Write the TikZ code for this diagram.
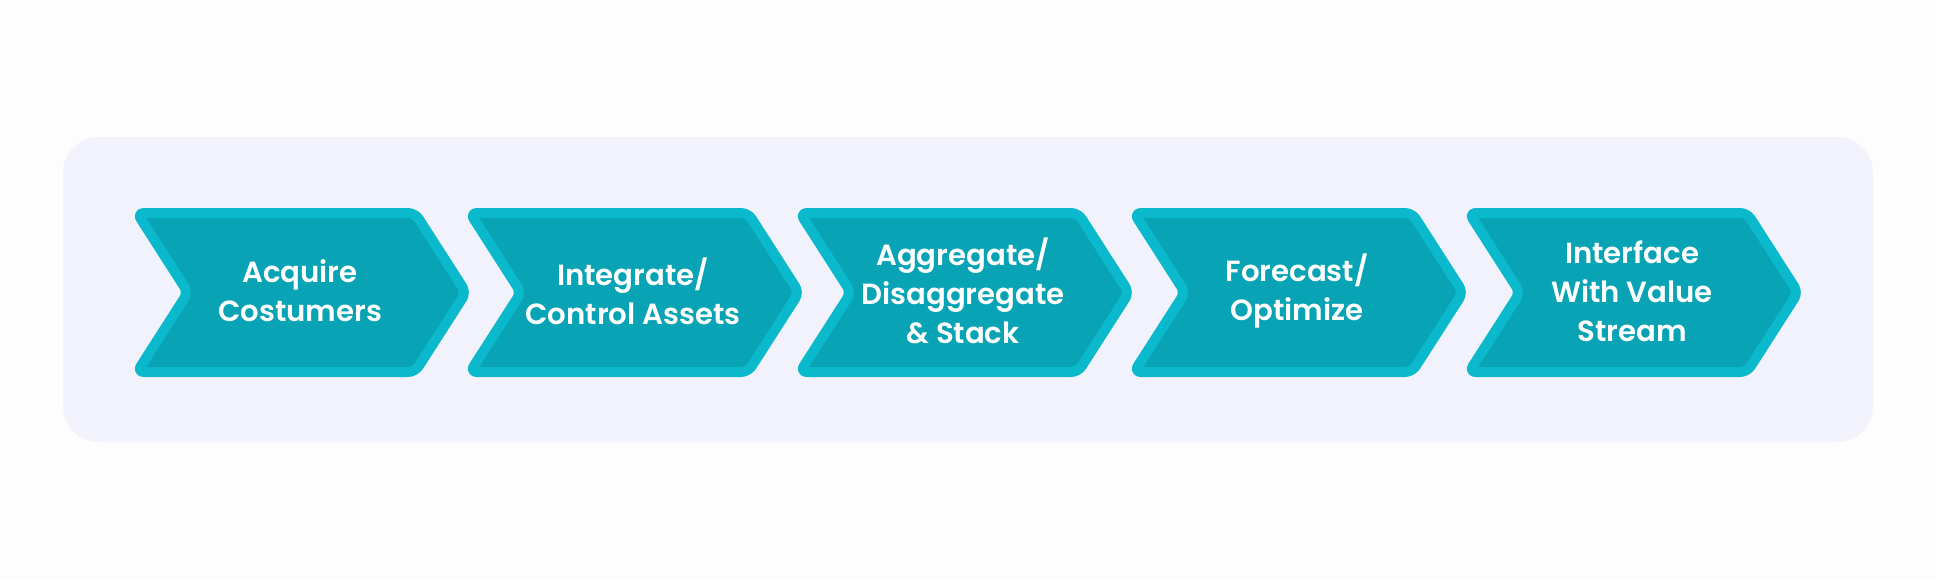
\documentclass[tikz,border=0pt]{standalone}
\usepackage{fontspec}
\setmainfont{Poppins}[BoldFont={Poppins SemiBold}]
\usetikzlibrary{positioning}

\definecolor{stepfill}{HTML}{08A3B4}
\definecolor{stepedge}{HTML}{0BB9CC}
\definecolor{panel}{HTML}{F1F2FC}
\definecolor{page}{HTML}{FDFDFE}

\tikzset{
  chevron/.style={draw=stepedge, fill=stepfill, line width=5pt, line join=round, rounded corners=3.5pt},
  steptext/.style={text=white, font=\bfseries\fontsize{14.6}{19.5}\selectfont, align=center}
}

% one step: left edge (px), node name, label
\newcommand{\stepchevron}[3]{%
  \draw[chevron] (#1+9,213) -- (#1+287,213) -- (#1+338,292.5) -- (#1+287,372) -- (#1+9,372) -- (#1+60,292.5) -- cycle;
  \node[steptext] (#2) at (#1+172,291) {#3};
}

\begin{document}
\begin{tikzpicture}[x=0.5pt, y=-0.5pt]
  \fill[page] (0,0) rectangle (1936,579);
  \useasboundingbox (0,0) rectangle (1936,579);
  \fill[panel, rounded corners=18pt] (63,137) rectangle (1873,442);

  \stepchevron{128}{acquire}{Acquire\\Costumers}
  \stepchevron{461}{integrate}{Integrate/\\Control Assets}
  \stepchevron{791}{aggregate}{Aggregate/\\Disaggregate\\\& Stack}
  \stepchevron{1125}{forecast}{Forecast/\\Optimize}
  \stepchevron{1460}{interface}{Interface\\With Value\\Stream}
\end{tikzpicture}
\end{document}
